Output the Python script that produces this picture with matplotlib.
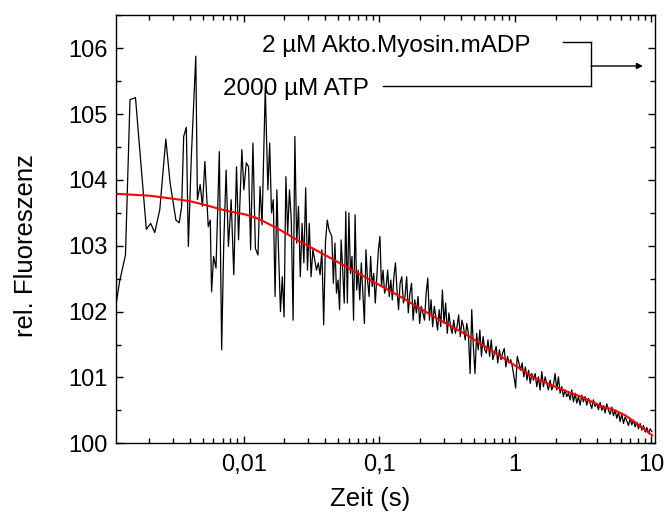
import numpy as np
import matplotlib
matplotlib.use("Agg")
import matplotlib.pyplot as plt
from matplotlib.lines import Line2D
from matplotlib.patches import FancyArrowPatch
from matplotlib.ticker import LogLocator, FixedLocator, MultipleLocator, FuncFormatter

plt.rcParams['font.family'] = ['Liberation Sans', 'DejaVu Sans']

# ---------------- data ----------------
# early, sparse samples (time in s, relative fluorescence)
t_early = [0.00115, 0.00122, 0.00135, 0.001458, 0.0016, 0.001923, 0.00207, 0.002218,
           0.002416, 0.002676, 0.00288, 0.003176, 0.00336, 0.0035, 0.003623, 0.003788,
           0.003921, 0.004126, 0.004448, 0.004573, 0.004791, 0.004981, 0.005191, 0.005494,
           0.005684, 0.005813, 0.006015, 0.006266, 0.00663, 0.006897, 0.007138, 0.007437,
           0.007734, 0.008102, 0.008471, 0.008872, 0.009181, 0.009714, 0.01005, 0.01047,
           0.01089, 0.01127, 0.01172, 0.01222, 0.01277, 0.01322, 0.01368, 0.01445]
y_early = [102.1, 102.45, 102.86, 105.22, 105.25, 103.25, 103.34, 103.20,
           103.55, 104.62, 103.95, 103.39, 103.35, 103.6, 104.66, 104.80,
           102.99, 104.36, 105.88, 103.70, 103.93, 103.6, 104.28, 103.29,
           103.39, 102.30, 102.84, 102.66, 104.43, 101.42, 102.99, 104.15,
           102.99, 103.70, 102.56, 104.2, 103.09, 104.46, 103.85, 104.26,
           104.2, 102.94, 104.56, 102.96, 102.86, 103.9, 103.32, 105.4]

# dense, log-spaced segments: (start time, end time), values
seg1_t = (0.0151, 0.04262)
seg1_y = [103.85, 104.56, 103.50, 103.70, 102.23, 103.85, 102.84, 102.0, 102.53, 101.92,
          104.05, 103.19, 103.85, 103.39, 101.87, 104.66, 103.04, 103.6, 102.53, 103.34,
          102.74, 103.88, 102.63, 103.34, 102.53, 102.94, 102.79, 102.63, 102.74, 102.56,
          102.94, 101.8, 103.06, 103.39, 103.24]
seg2_t = (0.04465, 0.1421)
seg2_y = [103.14, 102.43, 103.04, 102.28, 102.48, 102.03, 103.09, 102.63, 102.13, 103.52,
          102.13, 103.50, 102.58, 102.84, 101.87, 103.47, 102.33, 102.63, 102.18, 102.74,
          102.28, 101.82, 102.94, 102.48, 102.23, 102.84, 102.38, 102.58, 102.13, 102.53,
          102.94, 103.14, 102.38, 102.63, 102.28, 102.38, 102.63, 102.23, 102.48, 102.18,
          102.53, 102.74, 102.33, 102.03, 102.43]
seg3_t = (0.1462, 0.4523)
seg3_y = [102.53, 102.13, 102.23, 102.53, 101.98, 102.28, 102.43, 101.87, 102.18, 101.98,
          102.23, 101.82, 102.08, 101.98, 101.87, 102.28, 102.51, 101.87, 102.18, 101.77,
          102.08, 101.92, 101.72, 102.03, 101.77, 102.33, 101.82, 102.13, 101.67, 101.98,
          101.77, 101.67, 101.87, 101.67, 101.77, 101.95, 101.62, 101.87, 101.77, 101.57,
          101.82, 101.67]
seg4_t = (0.4656, 1.482)
seg4_y = [101.06, 102.03, 101.47, 101.06, 101.67, 101.42, 101.72, 101.32, 101.62, 101.42,
          101.37, 101.57, 101.32, 101.57, 101.27, 101.37, 101.47, 101.22, 101.42, 101.27,
          101.37, 101.44, 101.16, 101.32, 101.22, 101.27, 101.16, 101.01, 100.84, 101.32,
          101.22, 101.11, 101.22, 101.01, 101.16, 100.96, 101.11, 100.91, 101.06, 100.96,
          101.06, 100.86, 101.01]
seg5_t = (1.526, 4.1)
seg5_y = [100.81, 101.09, 100.86, 101.01, 100.91, 100.81, 100.96, 100.81, 100.89, 101.06,
          100.81, 101.01, 100.76, 100.86, 100.71, 100.81, 100.71, 100.76, 100.66, 100.81,
          100.63, 100.76, 100.61, 100.71, 100.58, 100.73, 100.63, 100.71, 100.58, 100.68,
          100.61, 100.53, 100.66, 100.56, 100.61, 100.51]
seg6_t = (4.22, 10.14)
seg6_y = [100.62, 100.50, 100.57, 100.46, 100.60, 100.50, 100.44, 100.55, 100.42, 100.50,
          100.38, 100.47, 100.33, 100.45, 100.30, 100.40, 100.34, 100.27, 100.38, 100.28,
          100.35, 100.25, 100.32, 100.22, 100.30, 100.20, 100.27, 100.17, 100.24, 100.15,
          100.22, 100.18]

# fitted curve
fit_t = [0.00115, 0.00205, 0.00341, 0.00418, 0.00567, 0.0069, 0.0080, 0.0101, 0.0122,
         0.0144, 0.0186, 0.0252, 0.0398, 0.0745, 0.142, 0.244, 0.437, 0.78, 1.40, 2.19,
         3.2, 4.22, 5.3, 6.4, 7.76, 9.0, 10.2]
fit_y = [103.79, 103.76, 103.70, 103.67, 103.60, 103.55, 103.52, 103.48, 103.43,
         103.36, 103.24, 103.08, 102.86, 102.55, 102.23, 101.94, 101.65, 101.32, 100.99, 100.82,
         100.69, 100.57, 100.51, 100.43, 100.31, 100.21, 100.12]

x_ticks = [0.01, 0.1, 1, 10]
x_ticklabels = ["0,01", "0,1", "1", "10"]
y_ticks = [100, 101, 102, 103, 104, 105, 106]

label1 = "2 µM Akto.Myosin.mADP"
label2 = "2000 µM ATP"

# ---------------- assemble ----------------
t_all = list(t_early)
y_all = list(y_early)
for (ts, te), ys in [(seg1_t, seg1_y), (seg2_t, seg2_y), (seg3_t, seg3_y),
                     (seg4_t, seg4_y), (seg5_t, seg5_y), (seg6_t, seg6_y)]:
    t_all += list(np.geomspace(ts, te, len(ys)))
    y_all += ys

W, H = 665, 513
fig = plt.figure(figsize=(W / 100, H / 100), dpi=100)
ax = fig.add_axes([116 / W, 1 - 443.3 / H, (655 - 116) / W, (443.3 - 14.7) / H])

ax.plot(t_all, y_all, color='black', lw=0.9)
ax.plot(fit_t, fit_y, color='#ff0000', lw=1.5)

ax.set_xscale('log')
ax.set_xlim(0.00115, 10.7)
ax.set_ylim(100, 106.51)

ax.xaxis.set_major_locator(FixedLocator(x_ticks))
ax.xaxis.set_major_formatter(FuncFormatter(lambda v, p: x_ticklabels[x_ticks.index(v)] if v in x_ticks else ""))
ax.xaxis.set_minor_locator(LogLocator(base=10, subs=np.arange(2, 10), numticks=20))
ax.xaxis.set_minor_formatter(FuncFormatter(lambda v, p: ""))
ax.yaxis.set_major_locator(FixedLocator(y_ticks))
ax.yaxis.set_minor_locator(MultipleLocator(0.5))

for s in ax.spines.values():
    s.set_linewidth(1.0)
ax.tick_params(which='both', direction='in', top=True, right=True, width=1.0)
ax.tick_params(which='major', length=5)
ax.tick_params(which='minor', length=3.4)
ax.tick_params(axis='x', which='major', labelsize=17, pad=8)
ax.tick_params(axis='y', which='major', labelsize=17, pad=6)

ax.set_xlabel("Zeit (s)", fontsize=18.5)
ax.set_ylabel("rel. Fluoreszenz", fontsize=18.5)
ax.xaxis.set_label_coords(0.472, -0.103)
ax.yaxis.set_label_coords(-0.145, 0.462)

# annotation (figure-pixel positions, y measured from top)
def fx(x):
    return x / W

def fy(y):
    return 1 - y / H

fig.text(fx(262), fy(51.7), label1, fontsize=17.5, ha='left', va='baseline')
fig.text(fx(223), fy(95), label2, fontsize=17.5, ha='left', va='baseline')
for xs, ys in [((563, 591), (42, 42)), ((591, 591), (42, 86)), ((383, 591), (86, 86))]:
    fig.add_artist(Line2D([fx(xs[0]), fx(xs[1])], [fy(ys[0]), fy(ys[1])],
                          transform=fig.transFigure, color='black', lw=1.0))
fig.add_artist(FancyArrowPatch((fx(591), fy(66)), (fx(643), fy(66)), transform=fig.transFigure,
                               arrowstyle='-|>', mutation_scale=9, color='black', lw=1.0,
                               shrinkA=0, shrinkB=0))

fig.savefig("out.png", dpi=100)
